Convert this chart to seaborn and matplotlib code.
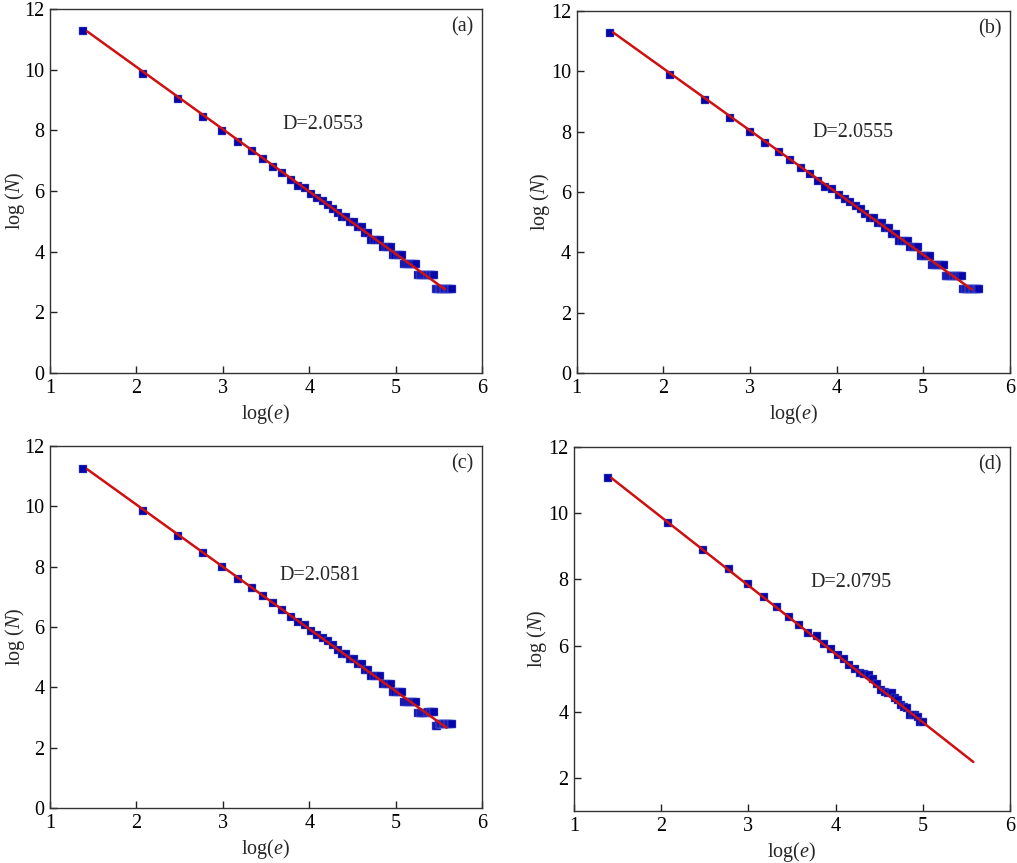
import matplotlib
matplotlib.use("Agg")
import matplotlib.pyplot as plt
import seaborn as sns
import numpy as np

# ---------------- data ----------------
log_e = [1.386, 2.079, 2.485, 2.773, 2.996, 3.178, 3.332, 3.466, 3.584, 3.689,
         3.784, 3.871, 3.951, 4.025, 4.094, 4.159, 4.220, 4.277, 4.331, 4.382,
         4.431, 4.477, 4.522, 4.564, 4.605, 4.644, 4.682, 4.718, 4.754, 4.787,
         4.820, 4.852, 4.883, 4.913, 4.942, 4.970, 4.997, 5.024, 5.050, 5.075,
         5.100, 5.124, 5.148, 5.170, 5.193, 5.215, 5.236, 5.257, 5.278, 5.298,
         5.318, 5.338, 5.357, 5.375, 5.394, 5.412, 5.429, 5.447, 5.464, 5.481,
         5.497, 5.513, 5.529, 5.545, 5.561, 5.576, 5.591, 5.606, 5.620, 5.635,
         5.649]

log_N_a = [11.27, 9.86, 9.04, 8.44, 7.98, 7.61, 7.33, 7.05, 6.80, 6.59,
           6.36, 6.18, 6.09, 5.89, 5.78, 5.67, 5.55, 5.42, 5.28, 5.13,
           5.13, 4.97, 4.97, 4.80, 4.80, 4.61, 4.61, 4.39, 4.39, 4.39,
           4.39, 4.16, 4.16, 4.16, 4.16, 3.89, 3.89, 3.89, 3.89, 3.89,
           3.58, 3.58, 3.58, 3.58, 3.58, 3.58, 3.58, 3.22, 3.22, 3.22,
           3.22, 3.22, 3.22, 3.22, 3.22, 3.22, 3.22, 3.22, 2.77, 2.77,
           2.77, 2.77, 2.77, 2.77, 2.77, 2.77, 2.77, 2.77, 2.77, 2.77,
           2.77]

log_N_b = [11.28, 9.87, 9.05, 8.45, 8.00, 7.63, 7.33, 7.05, 6.80, 6.59,
           6.37, 6.18, 6.09, 5.89, 5.78, 5.67, 5.55, 5.42, 5.28, 5.13,
           5.13, 4.97, 4.97, 4.80, 4.80, 4.61, 4.61, 4.39, 4.39, 4.39,
           4.39, 4.16, 4.16, 4.16, 4.16, 3.89, 3.89, 3.89, 3.89, 3.89,
           3.58, 3.58, 3.58, 3.58, 3.58, 3.58, 3.58, 3.22, 3.22, 3.22,
           3.22, 3.22, 3.22, 3.22, 3.22, 3.22, 3.22, 3.22, 2.77, 2.77,
           2.77, 2.77, 2.77, 2.77, 2.77, 2.77, 2.77, 2.77, 2.77, 2.77,
           2.77]

log_N_c = [11.25, 9.86, 9.03, 8.44, 7.98, 7.60, 7.30, 7.03, 6.78, 6.57,
           6.34, 6.16, 6.06, 5.86, 5.75, 5.63, 5.52, 5.39, 5.25, 5.10,
           5.10, 4.94, 4.94, 4.76, 4.76, 4.57, 4.57, 4.36, 4.36, 4.36,
           4.36, 4.11, 4.11, 4.11, 4.11, 3.85, 3.85, 3.85, 3.85, 3.85,
           3.53, 3.53, 3.53, 3.53, 3.53, 3.53, 3.53, 3.14, 3.14, 3.14,
           3.14, 3.14, 3.14, 3.18, 3.18, 3.18, 3.18, 3.18, 2.71, 2.71,
           2.77, 2.77, 2.77, 2.77, 2.77, 2.77, 2.77, 2.77, 2.77, 2.77,
           2.77]

log_e_d = log_e[:37]
log_N_d = [11.05, 9.70, 8.88, 8.30, 7.85, 7.47, 7.15, 6.86, 6.61, 6.39,
           6.29, 6.04, 5.90, 5.72, 5.58, 5.42, 5.28, 5.18, 5.15, 5.10,
           4.98, 4.85, 4.65, 4.60, 4.55, 4.55, 4.40, 4.35, 4.20, 4.15,
           4.10, 3.90, 3.90, 3.90, 3.85, 3.70, 3.68]

fit_x = {"a": [1.43, 5.57], "b": [1.42, 5.56], "c": [1.43, 5.59], "d": [1.43, 5.58]}
fit_y = {"a": [11.26, 2.76], "b": [11.29, 2.77], "c": [11.23, 2.66], "d": [11.06, 2.48]}
D_labels = {"a": "D=2.0553", "b": "D=2.0555", "c": "D=2.0581", "d": "D=2.0795"}
D_pos = {"a": (3.69, 8.2), "b": (3.72, 7.96), "c": (3.66, 7.70), "d": (3.71, 7.89)}
panel_tags = ["(a)", "(b)", "(c)", "(d)"]
x_ticks = [1, 2, 3, 4, 5, 6]
y_ticks_abc = [0, 2, 4, 6, 8, 10, 12]
y_ticks_d = [2, 4, 6, 8, 10, 12]

# ---------------- style ----------------
sns.set_style("ticks")
plt.rcParams["font.family"] = ["Liberation Serif", "DejaVu Serif"]
plt.rcParams["mathtext.fontset"] = "custom"
plt.rcParams["mathtext.rm"] = "Liberation Serif"
plt.rcParams["mathtext.it"] = "Liberation Serif:italic"

FS = 14.5

fig = plt.figure(figsize=(10.17, 8.63), dpi=100)
rects = {
    "a": [0.0492, 0.5678, 0.4248, 0.4218],
    "b": [0.5670, 0.5678, 0.4260, 0.4195],
    "c": [0.0492, 0.0637, 0.4248, 0.4195],
    "d": [0.5644, 0.0603, 0.4287, 0.4218],
}
ylabel_x = {"a": -0.082, "b": -0.084, "c": -0.082, "d": -0.084}
series = {
    "a": (log_e, log_N_a),
    "b": (log_e, log_N_b),
    "c": (log_e, log_N_c),
    "d": (log_e_d, log_N_d),
}

blue = "#0505aa"
red = "#d01010"

for key, tag in zip(["a", "b", "c", "d"], panel_tags):
    ax = fig.add_axes(rects[key])
    xs, ys = series[key]
    sns.scatterplot(x=xs, y=ys, marker="s", s=34, color=blue, edgecolor="#6a78d8",
                    linewidth=0.3, ax=ax, zorder=2)
    sns.lineplot(x=fit_x[key], y=fit_y[key], color=red, linewidth=1.8, ax=ax,
                 zorder=3, estimator=None, sort=False)
    ax.set_xlim(1, 6)
    if key == "d":
        ax.set_ylim(1, 12)
        ax.set_yticks(y_ticks_d)
    else:
        ax.set_ylim(0, 12)
        ax.set_yticks(y_ticks_abc)
    ax.set_xticks(x_ticks)
    ax.tick_params(direction="in", length=5, width=1, labelsize=FS,
                   colors="#222222", labelcolor="black", pad=4)
    for sp in ax.spines.values():
        sp.set_color("#333333")
        sp.set_linewidth(1.0)
    ax.set_xlabel(r"log($\mathit{e}$)", fontsize=FS, labelpad=3)
    ax.set_ylabel(r"log ($\mathit{N}$)", fontsize=FS)
    ax.yaxis.set_label_coords(ylabel_x[key], 0.473)
    ax.yaxis.label.set_va("center")
    tx, ty = D_pos[key]
    ax.text(tx, ty, D_labels[key], fontsize=FS, ha="left", va="center")
    ax.text(0.980, 0.950, tag, transform=ax.transAxes, fontsize=FS,
            ha="right", va="center")

fig.savefig("out.png", dpi=100)
